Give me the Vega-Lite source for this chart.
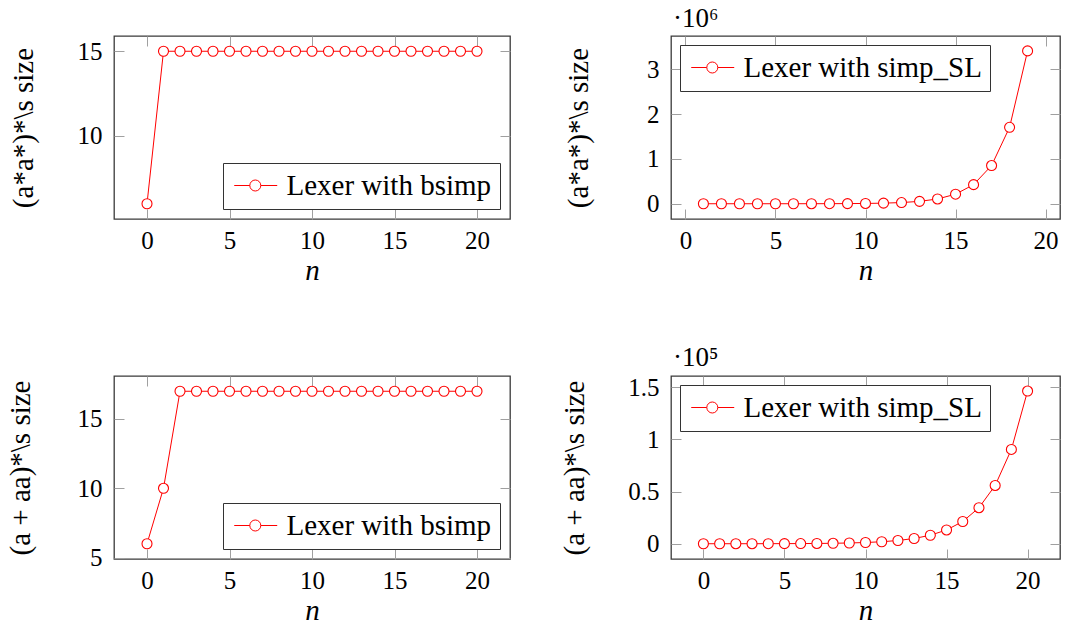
{
  "$schema": "https://vega.github.io/schema/vega-lite/v6.json",
  "background": "white",
  "padding": {"left": 5, "top": 3, "right": 6, "bottom": 0},
  "config": {
    "font": "Liberation Serif, serif",
    "view": {"stroke": "#3a3a3a", "strokeWidth": 1.3},
    "axis": {
      "labelFont": "Liberation Serif, serif",
      "labelFontSize": 25,
      "labelColor": "black",
      "titleFont": "Liberation Serif, serif",
      "titleFontSize": 29,
      "titleFontWeight": "normal",
      "titleColor": "black",
      "domain": false,
      "grid": false,
      "tickColor": "#a0a0a0",
      "tickSize": -10,
      "tickWidth": 1
    },
    "axisX": {"labelPadding": 19},
    "axisY": {"labelPadding": 22},
    "legend": {
      "title": null,
      "fillColor": "white",
      "strokeColor": "#333333",
      "padding": 8,
      "cornerRadius": 0,
      "labelFont": "Liberation Serif, serif",
      "labelFontSize": 29,
      "labelColor": "black",
      "labelLimit": 400,
      "labelOffset": 26.5,
      "symbolType": "M-0.92,0L0.35,0M1.25,0L2.59,0M1.25,0A0.45,0.45,0,1,1,0.35,0A0.45,0.45,0,1,1,1.25,0",
      "symbolSize": 600,
      "symbolStrokeWidth": 1,
      "symbolStrokeColor": "#ff0000",
      "symbolFillColor": "white"
    }
  },
  "datasets": {
    "astar_bsimp": [
      {"n": 0, "size": 6, "series": "Lexer with bsimp"},
      {"n": 1, "size": 15, "series": "Lexer with bsimp"},
      {"n": 2, "size": 15, "series": "Lexer with bsimp"},
      {"n": 3, "size": 15, "series": "Lexer with bsimp"},
      {"n": 4, "size": 15, "series": "Lexer with bsimp"},
      {"n": 5, "size": 15, "series": "Lexer with bsimp"},
      {"n": 6, "size": 15, "series": "Lexer with bsimp"},
      {"n": 7, "size": 15, "series": "Lexer with bsimp"},
      {"n": 8, "size": 15, "series": "Lexer with bsimp"},
      {"n": 9, "size": 15, "series": "Lexer with bsimp"},
      {"n": 10, "size": 15, "series": "Lexer with bsimp"},
      {"n": 11, "size": 15, "series": "Lexer with bsimp"},
      {"n": 12, "size": 15, "series": "Lexer with bsimp"},
      {"n": 13, "size": 15, "series": "Lexer with bsimp"},
      {"n": 14, "size": 15, "series": "Lexer with bsimp"},
      {"n": 15, "size": 15, "series": "Lexer with bsimp"},
      {"n": 16, "size": 15, "series": "Lexer with bsimp"},
      {"n": 17, "size": 15, "series": "Lexer with bsimp"},
      {"n": 18, "size": 15, "series": "Lexer with bsimp"},
      {"n": 19, "size": 15, "series": "Lexer with bsimp"},
      {"n": 20, "size": 15, "series": "Lexer with bsimp"}
    ],
    "astar_simpsl": [
      {"n": 1, "size": 13, "series": "Lexer with simp_SL"},
      {"n": 2, "size": 26, "series": "Lexer with simp_SL"},
      {"n": 3, "size": 52, "series": "Lexer with simp_SL"},
      {"n": 4, "size": 104, "series": "Lexer with simp_SL"},
      {"n": 5, "size": 208, "series": "Lexer with simp_SL"},
      {"n": 6, "size": 416, "series": "Lexer with simp_SL"},
      {"n": 7, "size": 832, "series": "Lexer with simp_SL"},
      {"n": 8, "size": 1664, "series": "Lexer with simp_SL"},
      {"n": 9, "size": 3328, "series": "Lexer with simp_SL"},
      {"n": 10, "size": 6656, "series": "Lexer with simp_SL"},
      {"n": 11, "size": 13312, "series": "Lexer with simp_SL"},
      {"n": 12, "size": 26624, "series": "Lexer with simp_SL"},
      {"n": 13, "size": 53248, "series": "Lexer with simp_SL"},
      {"n": 14, "size": 106496, "series": "Lexer with simp_SL"},
      {"n": 15, "size": 212992, "series": "Lexer with simp_SL"},
      {"n": 16, "size": 425984, "series": "Lexer with simp_SL"},
      {"n": 17, "size": 851968, "series": "Lexer with simp_SL"},
      {"n": 18, "size": 1703936, "series": "Lexer with simp_SL"},
      {"n": 19, "size": 3407872, "series": "Lexer with simp_SL"}
    ],
    "aaa_bsimp": [
      {"n": 0, "size": 6, "series": "Lexer with bsimp"},
      {"n": 1, "size": 10, "series": "Lexer with bsimp"},
      {"n": 2, "size": 17, "series": "Lexer with bsimp"},
      {"n": 3, "size": 17, "series": "Lexer with bsimp"},
      {"n": 4, "size": 17, "series": "Lexer with bsimp"},
      {"n": 5, "size": 17, "series": "Lexer with bsimp"},
      {"n": 6, "size": 17, "series": "Lexer with bsimp"},
      {"n": 7, "size": 17, "series": "Lexer with bsimp"},
      {"n": 8, "size": 17, "series": "Lexer with bsimp"},
      {"n": 9, "size": 17, "series": "Lexer with bsimp"},
      {"n": 10, "size": 17, "series": "Lexer with bsimp"},
      {"n": 11, "size": 17, "series": "Lexer with bsimp"},
      {"n": 12, "size": 17, "series": "Lexer with bsimp"},
      {"n": 13, "size": 17, "series": "Lexer with bsimp"},
      {"n": 14, "size": 17, "series": "Lexer with bsimp"},
      {"n": 15, "size": 17, "series": "Lexer with bsimp"},
      {"n": 16, "size": 17, "series": "Lexer with bsimp"},
      {"n": 17, "size": 17, "series": "Lexer with bsimp"},
      {"n": 18, "size": 17, "series": "Lexer with bsimp"},
      {"n": 19, "size": 17, "series": "Lexer with bsimp"},
      {"n": 20, "size": 17, "series": "Lexer with bsimp"}
    ],
    "aaa_simpsl": [
      {"n": 0, "size": 10, "series": "Lexer with simp_SL"},
      {"n": 1, "size": 16, "series": "Lexer with simp_SL"},
      {"n": 2, "size": 25, "series": "Lexer with simp_SL"},
      {"n": 3, "size": 41, "series": "Lexer with simp_SL"},
      {"n": 4, "size": 66, "series": "Lexer with simp_SL"},
      {"n": 5, "size": 107, "series": "Lexer with simp_SL"},
      {"n": 6, "size": 173, "series": "Lexer with simp_SL"},
      {"n": 7, "size": 281, "series": "Lexer with simp_SL"},
      {"n": 8, "size": 454, "series": "Lexer with simp_SL"},
      {"n": 9, "size": 735, "series": "Lexer with simp_SL"},
      {"n": 10, "size": 1190, "series": "Lexer with simp_SL"},
      {"n": 11, "size": 1920, "series": "Lexer with simp_SL"},
      {"n": 12, "size": 3110, "series": "Lexer with simp_SL"},
      {"n": 13, "size": 5040, "series": "Lexer with simp_SL"},
      {"n": 14, "size": 8150, "series": "Lexer with simp_SL"},
      {"n": 15, "size": 13200, "series": "Lexer with simp_SL"},
      {"n": 16, "size": 21300, "series": "Lexer with simp_SL"},
      {"n": 17, "size": 34500, "series": "Lexer with simp_SL"},
      {"n": 18, "size": 55800, "series": "Lexer with simp_SL"},
      {"n": 19, "size": 90300, "series": "Lexer with simp_SL"},
      {"n": 20, "size": 146200, "series": "Lexer with simp_SL"}
    ]
  },
  "columns": 2,
  "spacing": {"row": 157, "column": 161},
  "bounds": "flush",
  "resolve": {"scale": {"color": "independent"}, "legend": {"color": "independent"}},
  "concat": [
    {
      "width": 396,
      "height": 183,
      "data": {"name": "astar_bsimp"},
      "layer": [
        {
          "mark": {"type": "line", "strokeWidth": 1},
          "encoding": {
            "x": {"field": "n", "type": "quantitative", "scale": {"domain": [-2, 22], "nice": false, "zero": false},
                  "axis": {"values": [0, 5, 10, 15, 20], "title": "n", "titleFontStyle": "italic", "titlePadding": 3}},
            "y": {"field": "size", "type": "quantitative", "scale": {"domain": [5.1, 15.9], "nice": false, "zero": false},
                  "axis": {"values": [10, 15], "title": "(a*a*)*\\s size", "titlePadding": 39}},
            "color": {"field": "series", "type": "nominal", "scale": {"range": ["#ff0000"]},
                      "legend": {"orient": "bottom-right", "offset": 10,
                                 "encode": {"symbols": {"update": {"fill": {"value": "white"}, "stroke": {"value": "#ff0000"}, "strokeWidth": {"value": 1}}}}}}
          }
        },
        {
          "mark": {"type": "point", "shape": "circle", "filled": true, "fill": "white", "stroke": "#ff0000", "strokeWidth": 1.1, "size": 100, "opacity": 1},
          "encoding": {
            "x": {"field": "n", "type": "quantitative", "axis": {"orient": "top", "values": [0, 5, 10, 15, 20], "labels": false, "title": null}},
            "y": {"field": "size", "type": "quantitative", "axis": {"orient": "right", "values": [10, 15], "labels": false, "title": null}}
          }
        }
      ],
      "resolve": {"axis": {"x": "independent", "y": "independent"}}
    },
    {
      "width": 389,
      "height": 183,
      "title": {"text": "·10⁶", "anchor": "start", "frame": "group", "font": "Liberation Serif, serif", "fontSize": 27, "fontWeight": "normal", "color": "black", "offset": 3, "dx": 2},
      "data": {"name": "astar_simpsl"},
      "layer": [
        {
          "mark": {"type": "line", "strokeWidth": 1},
          "encoding": {
            "x": {"field": "n", "type": "quantitative", "scale": {"domain": [-0.8, 20.8], "nice": false, "zero": false},
                  "axis": {"values": [0, 5, 10, 15, 20], "title": "n", "titleFontStyle": "italic", "titlePadding": 3}},
            "y": {"field": "size", "type": "quantitative", "scale": {"domain": [-340000, 3740000], "nice": false, "zero": false},
                  "axis": {"values": [0, 1000000, 2000000, 3000000], "labelExpr": "format(datum.value / 1000000, '~g')", "title": "(a*a*)*\\s size", "titlePadding": 53}},
            "color": {"field": "series", "type": "nominal", "scale": {"range": ["#ff0000"]},
                      "legend": {"orient": "top-left", "offset": 9,
                                 "encode": {"symbols": {"update": {"fill": {"value": "white"}, "stroke": {"value": "#ff0000"}, "strokeWidth": {"value": 1}}}}}}
          }
        },
        {
          "mark": {"type": "point", "shape": "circle", "filled": true, "fill": "white", "stroke": "#ff0000", "strokeWidth": 1.1, "size": 100, "opacity": 1},
          "encoding": {
            "x": {"field": "n", "type": "quantitative", "axis": {"orient": "top", "values": [0, 5, 10, 15, 20], "labels": false, "title": null}},
            "y": {"field": "size", "type": "quantitative", "axis": {"orient": "right", "values": [0, 1000000, 2000000, 3000000], "labels": false, "title": null}}
          }
        }
      ],
      "resolve": {"axis": {"x": "independent", "y": "independent"}}
    },
    {
      "width": 396,
      "height": 183,
      "data": {"name": "aaa_bsimp"},
      "layer": [
        {
          "mark": {"type": "line", "strokeWidth": 1},
          "encoding": {
            "x": {"field": "n", "type": "quantitative", "scale": {"domain": [-2, 22], "nice": false, "zero": false},
                  "axis": {"values": [0, 5, 10, 15, 20], "title": "n", "titleFontStyle": "italic", "titlePadding": 3}},
            "y": {"field": "size", "type": "quantitative", "scale": {"domain": [4.9, 18.1], "nice": false, "zero": false},
                  "axis": {"values": [5, 10, 15], "title": "(a + aa)*\\s size", "titlePadding": 42}},
            "color": {"field": "series", "type": "nominal", "scale": {"range": ["#ff0000"]},
                      "legend": {"orient": "bottom-right", "offset": 10,
                                 "encode": {"symbols": {"update": {"fill": {"value": "white"}, "stroke": {"value": "#ff0000"}, "strokeWidth": {"value": 1}}}}}}
          }
        },
        {
          "mark": {"type": "point", "shape": "circle", "filled": true, "fill": "white", "stroke": "#ff0000", "strokeWidth": 1.1, "size": 100, "opacity": 1},
          "encoding": {
            "x": {"field": "n", "type": "quantitative", "axis": {"orient": "top", "values": [0, 5, 10, 15, 20], "labels": false, "title": null}},
            "y": {"field": "size", "type": "quantitative", "axis": {"orient": "right", "values": [5, 10, 15], "labels": false, "title": null}}
          }
        }
      ],
      "resolve": {"axis": {"x": "independent", "y": "independent"}}
    },
    {
      "width": 389,
      "height": 183,
      "title": {"text": "·10⁵", "anchor": "start", "frame": "group", "font": "Liberation Serif, serif", "fontSize": 27, "fontWeight": "normal", "color": "black", "offset": 3, "dx": 2},
      "data": {"name": "aaa_simpsl"},
      "layer": [
        {
          "mark": {"type": "line", "strokeWidth": 1},
          "encoding": {
            "x": {"field": "n", "type": "quantitative", "scale": {"domain": [-2, 22], "nice": false, "zero": false},
                  "axis": {"values": [0, 5, 10, 15, 20], "title": "n", "titleFontStyle": "italic", "titlePadding": 3}},
            "y": {"field": "size", "type": "quantitative", "scale": {"domain": [-14600, 160600], "nice": false, "zero": false},
                  "axis": {"values": [0, 50000, 100000, 150000], "labelExpr": "format(datum.value / 100000, '~g')", "title": "(a + aa)*\\s size", "titlePadding": 38}},
            "color": {"field": "series", "type": "nominal", "scale": {"range": ["#ff0000"]},
                      "legend": {"orient": "top-left", "offset": 9,
                                 "encode": {"symbols": {"update": {"fill": {"value": "white"}, "stroke": {"value": "#ff0000"}, "strokeWidth": {"value": 1}}}}}}
          }
        },
        {
          "mark": {"type": "point", "shape": "circle", "filled": true, "fill": "white", "stroke": "#ff0000", "strokeWidth": 1.1, "size": 100, "opacity": 1},
          "encoding": {
            "x": {"field": "n", "type": "quantitative", "axis": {"orient": "top", "values": [0, 5, 10, 15, 20], "labels": false, "title": null}},
            "y": {"field": "size", "type": "quantitative", "axis": {"orient": "right", "values": [0, 50000, 100000, 150000], "labels": false, "title": null}}
          }
        }
      ],
      "resolve": {"axis": {"x": "independent", "y": "independent"}}
    }
  ]
}
